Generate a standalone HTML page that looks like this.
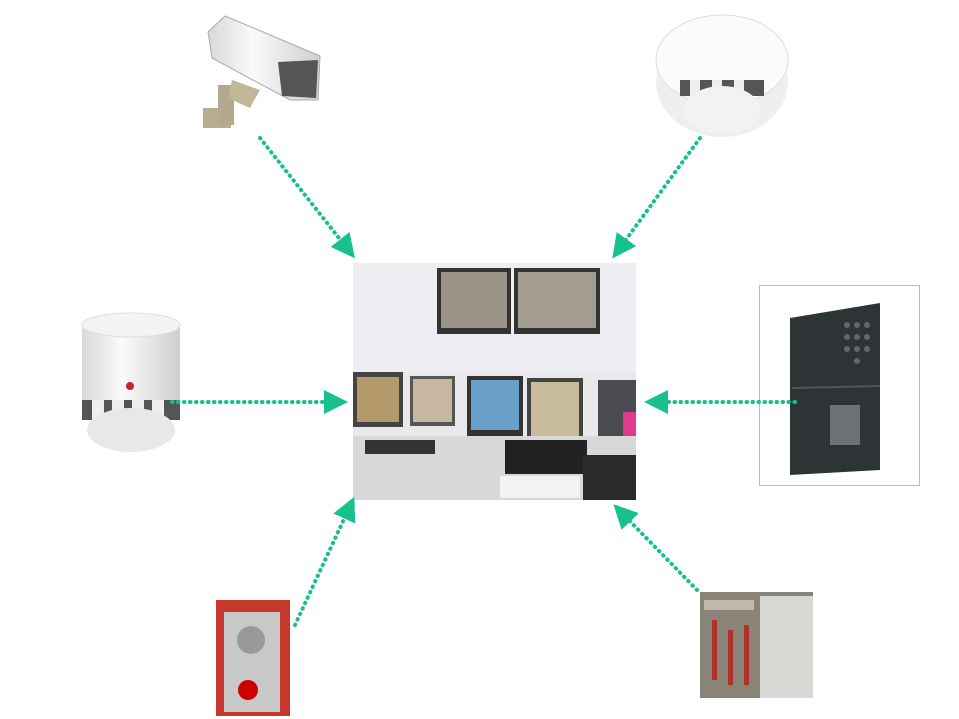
<!DOCTYPE html>
<html><head><meta charset="utf-8"><style>
html,body{margin:0;padding:0;background:#fff;}
svg{display:block;}
</style></head><body>
<svg width="959" height="719" viewBox="0 0 959 719" xmlns="http://www.w3.org/2000/svg">
<defs>
<marker id="ah" markerWidth="6" markerHeight="6" refX="4" refY="3" orient="auto" markerUnits="strokeWidth">
<path d="M0,0 L6,3 L0,6 z" fill="#17c08c"/>
</marker>
<linearGradient id="wg" x1="0" x2="1"><stop offset="0" stop-color="#d8d8d8"/><stop offset=".4" stop-color="#fafafa"/><stop offset="1" stop-color="#cfcfcf"/></linearGradient>
</defs>

<!-- center control room -->
<rect x="353" y="263" width="283" height="237" fill="#e9e8ea"/>
<rect x="353" y="263" width="283" height="110" fill="#eeeef2"/>
<rect x="437" y="268" width="74" height="66" fill="#333"/><rect x="441" y="272" width="66" height="56" fill="#9a9488"/>
<rect x="514" y="268" width="86" height="66" fill="#333"/><rect x="518" y="272" width="78" height="56" fill="#a39c90"/>
<rect x="353" y="372" width="50" height="55" fill="#444"/><rect x="357" y="377" width="42" height="45" fill="#b49a6a"/>
<rect x="410" y="376" width="45" height="50" fill="#555"/><rect x="413" y="379" width="39" height="43" fill="#c7b7a0"/>
<rect x="467" y="376" width="56" height="60" fill="#333"/><rect x="471" y="380" width="48" height="50" fill="#6aa0c8"/>
<rect x="527" y="378" width="56" height="62" fill="#444"/><rect x="531" y="382" width="48" height="54" fill="#c9bc9a"/>
<rect x="598" y="380" width="38" height="80" fill="#4a4a50"/><rect x="623" y="412" width="13" height="30" fill="#e03a8a"/>
<rect x="353" y="436" width="283" height="64" fill="#d8d8d8"/>
<rect x="505" y="440" width="82" height="34" fill="#222"/>
<rect x="583" y="455" width="53" height="45" fill="#2a2a2a"/>
<rect x="365" y="440" width="70" height="14" fill="#333"/>
<rect x="500" y="476" width="80" height="22" fill="#f2f2f2"/>

<!-- camera top left -->
<g>
<rect x="203" y="108" width="28" height="20" fill="#b7ad91"/>
<rect x="218" y="85" width="16" height="40" fill="#b2a98e"/>
<polygon points="208,32 225,16 320,56 318,100 290,100 212,58" fill="url(#wg)" stroke="#aaa"/>
<polygon points="278,62 318,60 316,98 282,96" fill="#555"/>
<polygon points="232,80 260,90 250,108 228,98" fill="#c0b79b"/>
</g>

<!-- smoke detector top right -->
<g>
<ellipse cx="722" cy="82" rx="66" ry="55" fill="#efefef"/>
<ellipse cx="722" cy="60" rx="66" ry="45" fill="#fbfbfb" stroke="#ddd"/>
<rect x="680" y="80" width="84" height="16" fill="#555"/>
<rect x="690" y="80" width="10" height="16" fill="#eee"/><rect x="712" y="80" width="10" height="16" fill="#eee"/><rect x="734" y="80" width="10" height="16" fill="#eee"/>
<ellipse cx="722" cy="110" rx="38" ry="24" fill="#f2f2f2"/>
</g>

<!-- left detector -->
<g>
<rect x="82" y="325" width="98" height="75" fill="url(#wg)"/>
<ellipse cx="131" cy="325" rx="49" ry="12" fill="#f4f4f4" stroke="#ddd"/>
<rect x="82" y="400" width="98" height="20" fill="#555"/>
<rect x="92" y="400" width="12" height="20" fill="#eee"/><rect x="112" y="400" width="12" height="20" fill="#eee"/><rect x="132" y="400" width="12" height="20" fill="#eee"/><rect x="152" y="400" width="12" height="20" fill="#eee"/>
<ellipse cx="131" cy="430" rx="44" ry="22" fill="#e8e8e8"/>
<circle cx="130" cy="386" r="4" fill="#c22"/>
</g>

<!-- right keypad -->
<rect x="759.5" y="285.5" width="160" height="200" fill="#fff" stroke="#bbb"/>
<polygon points="790,318 880,303 880,470 790,475" fill="#2e3336"/>
<line x1="792" y1="388" x2="880" y2="386" stroke="#555" stroke-width="2"/>
<rect x="830" y="405" width="30" height="40" fill="#6d7275"/>
<g fill="#666"><circle cx="847" cy="325" r="3"/><circle cx="857" cy="325" r="3"/><circle cx="867" cy="325" r="3"/><circle cx="847" cy="337" r="3"/><circle cx="857" cy="337" r="3"/><circle cx="867" cy="337" r="3"/><circle cx="847" cy="349" r="3"/><circle cx="857" cy="349" r="3"/><circle cx="867" cy="349" r="3"/><circle cx="857" cy="361" r="3"/></g>

<!-- bottom-left intercom -->
<rect x="216" y="600" width="74" height="116" fill="#c6372d"/>
<rect x="224" y="612" width="56" height="100" fill="#c8c8c8"/>
<circle cx="251" cy="640" r="14" fill="#999"/>
<circle cx="248" cy="690" r="10" fill="#c00"/>

<!-- bottom-right plant room -->
<rect x="700" y="592" width="113" height="106" fill="#8a8478"/>
<rect x="760" y="596" width="53" height="102" fill="#d8d8d4"/>
<rect x="704" y="600" width="50" height="10" fill="#c0b8a8"/>
<g fill="#b3302a"><rect x="712" y="620" width="5" height="60"/><rect x="728" y="630" width="5" height="55"/><rect x="744" y="625" width="5" height="60"/></g>

<!-- arrows -->
<g stroke="#17c08c" stroke-width="4" stroke-dasharray="0.5 5.5" stroke-linecap="round" fill="none">
<line x1="260" y1="138" x2="350" y2="252" marker-end="url(#ah)"/>
<line x1="700" y1="138" x2="617" y2="252" marker-end="url(#ah)"/>
<line x1="172" y1="402" x2="340" y2="402" marker-end="url(#ah)"/>
<line x1="795" y1="402" x2="652" y2="402" marker-end="url(#ah)"/>
<line x1="295" y1="625" x2="351" y2="504" marker-end="url(#ah)"/>
<line x1="697" y1="590" x2="619" y2="510" marker-end="url(#ah)"/>
</g>
</svg>
</body></html>
